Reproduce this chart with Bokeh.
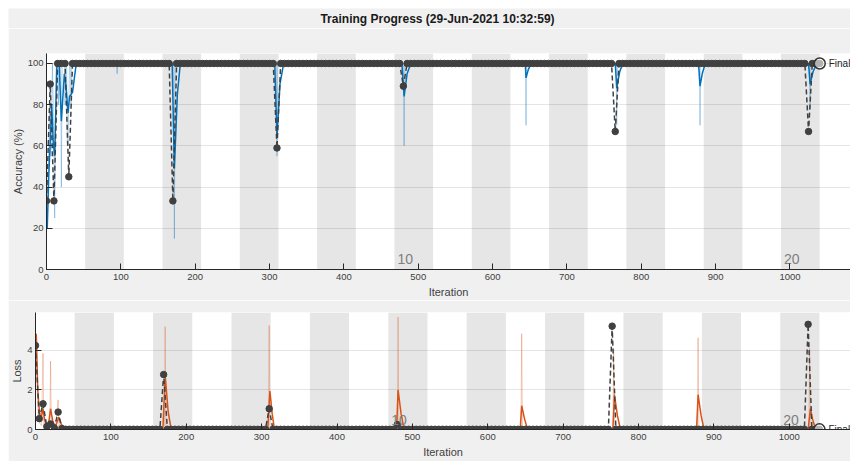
from bokeh.plotting import figure
from bokeh.layouts import column, row
from bokeh.models import FixedTicker, Spacer
from bokeh.core.properties import value
from bokeh.embed import file_html
from bokeh.resources import INLINE

# ---------------- data ----------------
x_ticks = [0, 100, 200, 300, 400, 500, 600, 700, 800, 900, 1000]
acc_ticks = [0, 20, 40, 60, 80, 100]
loss_ticks = [0, 2, 4]

epoch_len = 52
band_starts = [52, 156, 260, 364, 468, 572, 676, 780, 884, 988]
epoch_label_iter = [468, 988]
epoch_label_text = ["10", "20"]

title_text = "Training Progress (29-Jun-2021 10:32:59)"

# validation every 5 iterations
val_iter = list(range(0, 1041, 5))
val_acc_dips = {0: 33.3, 5: 90, 10: 33.3, 30: 45, 170: 33.3, 310: 59,
                480: 89, 765: 67, 1025: 67}
val_loss_spikes = {0: 4.25, 5: 0.55, 10: 1.3, 15: 0.15, 20: 0.28, 25: 0.08,
                   30: 0.88, 35: 0.05, 170: 2.78, 310: 1.05, 480: 0.25,
                   765: 5.23, 1025: 5.32}
val_acc = [val_acc_dips.get(i, 100) for i in val_iter]
val_loss = [val_loss_spikes.get(i, 0.01) for i in val_iter]
final_iter = 1040
final_acc = 100
final_loss = 0.01

acc_raw_iter = [1, 2, 3, 4, 5, 6, 7, 8, 9, 10, 11, 12, 13, 14, 15, 16, 17, 18,
                19, 20, 21, 22, 23, 24, 25, 26, 27, 28, 29, 30, 31, 32, 33, 34,
                35, 40, 94, 95, 96, 171, 172, 173, 309, 310, 311, 480, 481, 482,
                644, 645, 646, 766, 767, 768, 878, 879, 880, 1026, 1027, 1028,
                1040]
acc_raw = [20, 40, 60, 80, 60, 55, 80, 100, 80, 60, 25, 60, 100, 100, 100, 80,
           100, 100, 100, 40, 100, 100, 100, 100, 80, 100, 100, 60, 60, 80, 100,
           100, 80, 100, 100, 100, 100, 95, 100, 100, 15, 100, 100, 55, 100,
           100, 60, 100, 100, 70, 100, 100, 70, 100, 100, 70, 100, 100, 78, 100,
           100]

acc_smooth_iter = [1, 3, 5, 7, 9, 11, 14, 17, 20, 24, 26, 29, 31, 35, 40,
                   169, 172, 176, 180, 307, 310, 314, 319, 478, 481, 485, 490,
                   644, 645, 648, 652, 765, 767, 771, 775, 877, 879, 882, 886,
                   1025, 1027, 1031, 1036, 1040]
acc_smooth = [20, 45, 62, 80, 62, 55, 100, 100, 72, 95, 90, 76, 84, 86, 100,
              100, 49, 85, 100, 100, 64, 90, 100, 100, 84, 95, 100,
              100, 93, 97, 100, 100, 88, 96, 100, 100, 89, 95, 100,
              100, 90, 96, 100, 100]

loss_raw_iter = [1, 2, 3, 4, 5, 6, 8, 10, 11, 13, 15, 17, 19, 20, 21, 24, 27,
                 30, 31, 33, 35, 40, 171, 172, 173, 309, 310, 311, 480, 481,
                 482, 644, 645, 646, 766, 767, 768, 878, 879, 880, 1026, 1027,
                 1028, 1040]
loss_raw = [4.85, 3.0, 1.2, 0.5, 0.9, 0.3, 0.2, 3.86, 0.3, 0.1, 0.2, 0.1, 0.2,
            3.46, 0.1, 0.05, 0.3, 1.5, 0.1, 0.4, 0.05, 0.0, 0, 5.2, 0, 0, 5.27,
            0, 0, 5.69, 0, 0, 4.85, 0, 0, 4.1, 0, 0, 4.64, 0, 0, 4.1, 0, 0]

loss_smooth_iter = [1, 3, 5, 7, 10, 12, 14, 17, 20, 23, 26, 28, 31, 34, 37, 40,
                    45, 169, 172, 176, 180, 308, 311, 314, 317, 479, 481, 485,
                    489, 643, 645, 649, 653, 766, 768, 772, 776, 877, 879, 883,
                    887, 1025, 1028, 1031, 1035, 1040]
loss_smooth = [4.85, 2.0, 1.0, 0.5, 1.05, 0.5, 0.25, 0.2, 1.05, 0.4, 0.15, 0.3,
               0.62, 0.3, 0.08, 0.02, 0, 0, 2.75, 0.9, 0, 0, 1.94, 0.8, 0, 0,
               2.0, 0.8, 0, 0, 1.2, 0.5, 0, 0, 1.77, 0.7, 0, 0, 1.76, 0.7, 0,
               0, 1.05, 0.5, 0, 0]

FONT = "Liberation Sans"
BG = "#f0f0f0"
DARK = "#404040"


def make_fig(height, mbt, mbb, mbl, x_end, y_end, yticks, ylabel):
    p = figure(width=842, height=height, x_range=(0, x_end), y_range=(0, y_end),
               output_backend="svg", toolbar_location=None,
               min_border_left=mbl, min_border_right=0, min_border_top=mbt,
               min_border_bottom=mbb, background_fill_color="white",
               border_fill_color=BG, outline_line_color=None)
    p.quad(left=band_starts, right=[s + epoch_len for s in band_starts],
           bottom=0, top=y_end, fill_color="#e6e6e6", line_color=None,
           level="image")
    p.xaxis.ticker = FixedTicker(ticks=x_ticks)
    p.yaxis.ticker = FixedTicker(ticks=yticks)
    p.ygrid.ticker = FixedTicker(ticks=yticks)
    p.xgrid.grid_line_color = None
    p.ygrid.grid_line_color = "black"
    p.ygrid.grid_line_alpha = 0.1
    for ax in (p.xaxis[0], p.yaxis[0]):
        ax.axis_line_color = "#262626"
        ax.major_tick_line_color = "#262626"
        ax.major_tick_in = 6
        ax.major_tick_out = 0
        ax.minor_tick_line_color = None
        ax.major_label_text_font = FONT
        ax.major_label_text_font_size = "9.5px"
        ax.major_label_text_color = DARK
        ax.axis_label_text_font = FONT
        ax.axis_label_text_font_size = "11px"
        ax.axis_label_text_font_style = "normal"
        ax.axis_label_text_color = DARK
    p.xaxis.major_label_standoff = 4
    p.xaxis.axis_label_standoff = 3
    p.yaxis.major_label_standoff = 3
    p.yaxis.axis_label_standoff = 1
    p.xaxis.axis_label = "Iteration"
    p.yaxis.axis_label = ylabel
    return p


# ---------------- title strip ----------------
p0 = figure(width=842, height=20, x_range=(0, 1), y_range=(0, 1),
            output_backend="svg", toolbar_location=None, min_border=0,
            background_fill_color=BG, border_fill_color=BG,
            outline_line_color=None)
p0.axis.visible = False
p0.grid.visible = False
p0.text([0.5095], [0.5], text=[title_text], text_font=value(FONT),
        text_font_size="12px", text_font_style="bold", text_color="#1a1a1a",
        text_align="center", text_baseline="middle")

# ---------------- accuracy ----------------
p1 = make_fig(272, 25, 31, 38, 1081.4, 104.85, acc_ticks, "Accuracy (%)")
p1.line(acc_raw_iter, acc_raw, line_color="#0072BD", line_alpha=0.3, line_width=1)
p1.line(acc_smooth_iter, acc_smooth, line_color="#0072BD", line_width=1.5)
p1.line(val_iter, val_acc, line_color=DARK, line_width=1.5, line_dash="5 3")
p1.scatter(val_iter, val_acc, size=6.5, fill_color=DARK, line_color=DARK)
p1.scatter([final_iter], [final_acc], size=11, fill_color="white", fill_alpha=0.6,
           line_color="#333333", line_width=1.5)
p1.text([final_iter], [final_acc], text=["Final"], x_offset=9,
        text_font=value(FONT), text_font_size="10px", text_color="#262626",
        text_baseline="middle", text_align="left")
p1.text(epoch_label_iter, [0, 0], text=epoch_label_text, x_offset=3, y_offset=-6,
        text_font=value(FONT), text_font_size="14px", text_color="#7f7f7f",
        text_baseline="bottom", text_align="left")

# ---------------- loss ----------------
p2 = make_fig(161, 12, 32, 26, 1081.2, 5.92, loss_ticks, "Loss")
p2.line(loss_raw_iter, loss_raw, line_color="#D95319", line_alpha=0.3, line_width=1)
p2.line(loss_smooth_iter, loss_smooth, line_color="#D95319", line_width=1.5)
p2.line(val_iter, val_loss, line_color=DARK, line_width=1.5, line_dash="5 3")
p2.scatter(val_iter, val_loss, size=6.5, fill_color=DARK, line_color=DARK)
p2.scatter([final_iter], [final_loss], size=11, fill_color="white", fill_alpha=0.6,
           line_color="#333333", line_width=1.5)
p2.text([final_iter], [final_loss], text=["Final"], x_offset=9,
        text_font=value(FONT), text_font_size="10px", text_color="#262626",
        text_baseline="middle", text_align="left")
p2.text(epoch_label_iter, [0, 0], text=epoch_label_text, x_offset=3, y_offset=-5,
        text_font=value(FONT), text_font_size="14px", text_color="#7f7f7f",
        text_baseline="bottom", text_align="left")

layout = column(Spacer(width=850, height=8),
                row(Spacer(width=8, height=453),
                    column(row(p0), row(p1), row(p2), spacing=0), spacing=0),
                spacing=0)
open("out.html", "w").write(file_html(layout, INLINE))
